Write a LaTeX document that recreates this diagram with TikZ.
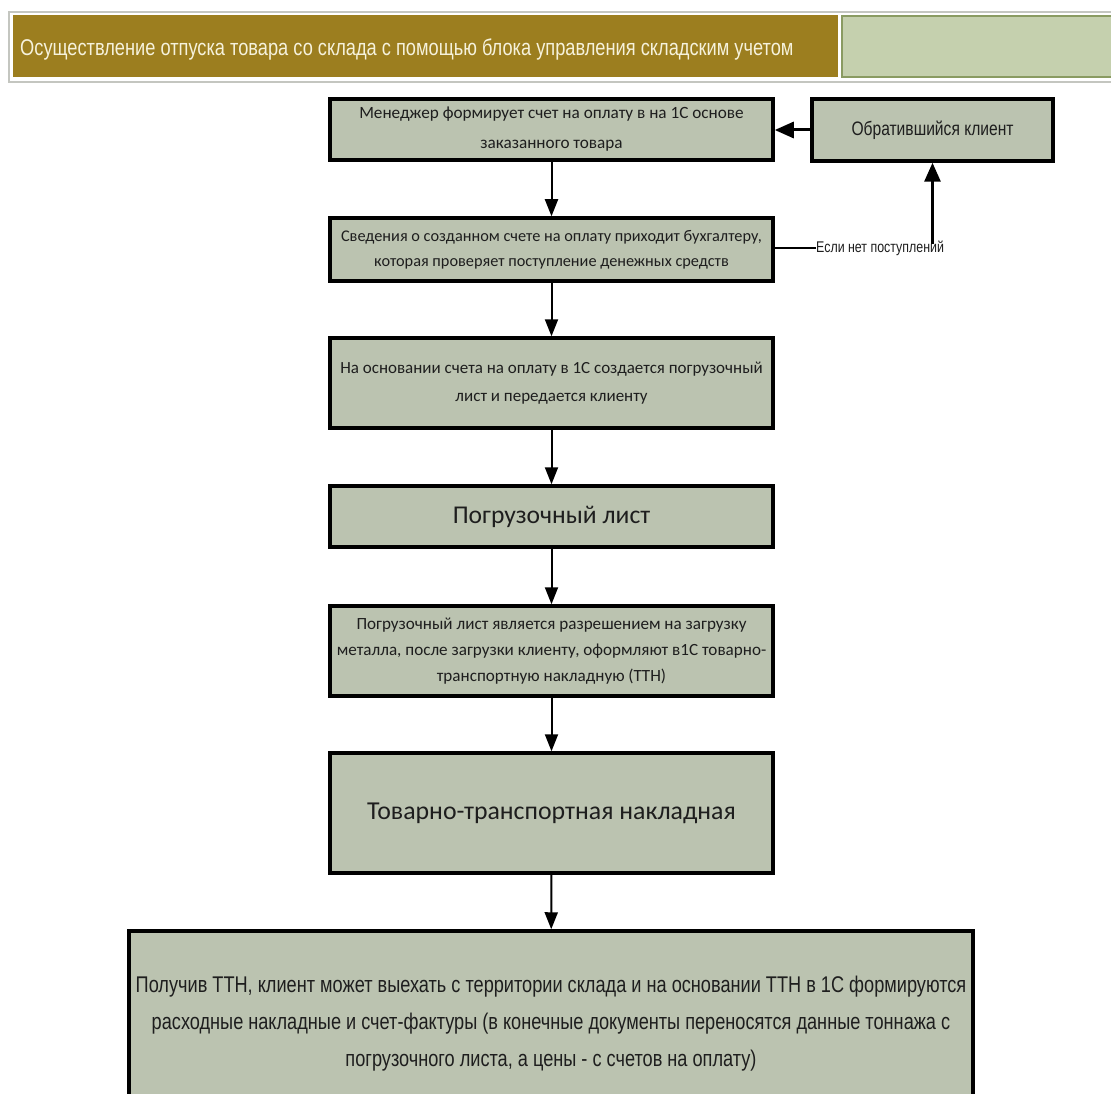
\documentclass[tikz,border=0pt]{standalone}
\usepackage{fontspec}
\setmainfont{Carlito}
\newfontfamily\narrowfont[FakeStretch=0.8]{Liberation Sans}
\usetikzlibrary{arrows.meta}
\definecolor{boxfill}{RGB}{187,195,176}
\definecolor{gold}{RGB}{156,126,31}
\definecolor{palegreen}{RGB}{197,208,174}
\definecolor{olive}{RGB}{138,155,98}
\definecolor{frame}{RGB}{196,198,192}
\definecolor{cream}{RGB}{246,242,220}
\definecolor{ink}{RGB}{30,30,30}
\tikzset{
  flowbox/.style={draw=black, line width=3.5pt, fill=boxfill, align=center,
    inner sep=0pt, text=ink},
  wide/.style={minimum width=443pt},
  flow/.style={-{Triangle[length=17pt,width=13pt]}, line width=2pt},
  back/.style={-{Triangle[length=19pt,width=16pt]}, line width=3pt}
}
\begin{document}
\begin{tikzpicture}[x=1pt,y=-1pt]
\useasboundingbox (0,0) rectangle (1111,1094);
\clip (0,0) rectangle (1111,1094);
\fill[white] (0,0) rectangle (1111,1094);

% heading bar
\draw[frame, line width=2pt, fill=white] (9,12) rectangle (1120,82);
\node[fill=gold, minimum width=825pt, minimum height=62pt, inner sep=0pt,
      anchor=north west] (head) at (13,15) {};
\node[fill=palegreen, draw=olive, line width=1.5pt, minimum width=275pt,
      minimum height=61pt, inner sep=0pt, anchor=north west] (headright) at (841,15.5) {};
\node[anchor=west, text=cream, inner sep=0pt,
      font=\narrowfont\fontsize{22.8}{26}\selectfont] (title) at (20,50)
  {Осуществление отпуска товара со склада с помощью блока управления складским учетом};

% process boxes
\node[flowbox, wide, minimum height=61pt, font=\fontsize{17.2}{30}\selectfont] (b1) at (551.5,129.5)
  {Менеджер формирует счет на оплату в на 1С основе\\заказанного товара};
\node[flowbox, minimum width=241pt, minimum height=62pt,
      font=\narrowfont\fontsize{19.5}{24}\selectfont] (client) at (932.5,130)
  {Обратившийся клиент};
\node[flowbox, wide, minimum height=63pt, font=\fontsize{16.3}{25}\selectfont] (b2) at (551.5,249.5)
  {Сведения о созданном счете на оплату приходит бухгалтеру,\\которая проверяет поступление денежных средств};
\node[anchor=west, inner sep=0pt, text=ink,
      font=\narrowfont\fontsize{15.5}{18}\selectfont] (nopay) at (816,248)
  {Если нет поступлений};
\node[flowbox, wide, minimum height=90pt, font=\fontsize{17}{28}\selectfont] (b3) at (551.5,383)
  {На основании счета на оплату в 1С создается погрузочный\\лист и передается клиенту};
\node[flowbox, wide, minimum height=61pt, font=\fontsize{25.6}{30}\selectfont] (b4) at (551.5,516.5)
  {Погрузочный лист};
\node[flowbox, wide, minimum height=90pt, font=\fontsize{17.1}{26}\selectfont] (b5) at (551.5,651)
  {Погрузочный лист является разрешением на загрузку\\металла, после загрузки клиенту, оформляют в1С товарно-\\транспортную накладную (ТТН)};
\node[flowbox, wide, minimum height=120pt, font=\fontsize{25.8}{30}\selectfont] (b6) at (551.5,813)
  {Товарно-транспортная накладная};
\node[flowbox, minimum width=844pt, minimum height=186pt,
      font=\narrowfont\fontsize{22.7}{37}\selectfont] (b7) at (551,1024)
  {Получив ТТН, клиент может выехать с территории склада и на основании ТТН в 1С формируются\\
   расходные накладные и счет-фактуры (в конечные документы переносятся данные тоннажа с\\
   погрузочного листа, а цены - с счетов на оплату)};

% connectors
\draw[back] (client.west) -- (b1.east |- client.west);
\draw[flow] (b1) -- (b2);
\draw[line width=2.5pt] (b2.east |- nopay.west) -- (nopay.west);
\coordinate (rise) at (client.south |- nopay.north);
\draw[back] ([yshift=-4pt]rise) -- (client.south);
\draw[flow] (b2) -- (b3);
\draw[flow] (b3) -- (b4);
\draw[flow] (b4) -- (b5);
\draw[flow] (b5) -- (b6);
\draw[flow] (b6) -- (b7);
\end{tikzpicture}
\end{document}
